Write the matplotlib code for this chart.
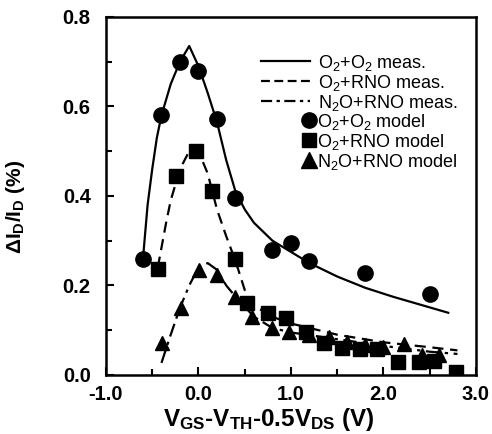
import matplotlib
matplotlib.use("Agg")
import matplotlib.pyplot as plt
from matplotlib.lines import Line2D
from matplotlib.ticker import MultipleLocator

plt.rcParams['font.family'] = ['Liberation Sans', 'DejaVu Sans']
plt.rcParams['mathtext.fontset'] = 'custom'
plt.rcParams['mathtext.rm'] = 'Liberation Sans'
plt.rcParams['mathtext.it'] = 'Liberation Sans'
plt.rcParams['mathtext.bf'] = 'Liberation Sans:bold'
plt.rcParams['mathtext.default'] = 'regular'

# measured curves
x_meas1 = [-0.6, -0.55, -0.5, -0.45, -0.4, -0.3, -0.2, -0.1, 0.0, 0.1, 0.2, 0.3, 0.4, 0.5, 0.6, 0.8,
           1.0, 1.2, 1.5, 1.8, 2.1, 2.4, 2.7]
y_meas1 = [0.26, 0.38, 0.46, 0.53, 0.58, 0.65, 0.70, 0.735, 0.69, 0.63, 0.565, 0.48, 0.41, 0.37,
           0.34, 0.30, 0.275, 0.25, 0.22, 0.195, 0.175, 0.157, 0.139]

x_meas2 = [-0.44, -0.35, -0.3, -0.2, -0.1, 0.0, 0.1, 0.2, 0.3, 0.4, 0.5, 0.6, 0.8, 1.0, 1.5, 2.0,
           2.5, 2.8]
y_meas2 = [0.24, 0.34, 0.39, 0.46, 0.50, 0.50, 0.45, 0.37, 0.31, 0.255, 0.19, 0.155, 0.13, 0.115,
           0.09, 0.073, 0.062, 0.055]

x_meas3 = [-0.4, -0.3, -0.2, -0.1, 0.0, 0.1, 0.2, 0.3, 0.4, 0.6, 0.8, 1.0, 1.5, 2.0, 2.5, 2.8]
y_meas3 = [0.027, 0.09, 0.15, 0.20, 0.24, 0.25, 0.235, 0.20, 0.175, 0.13, 0.105, 0.095, 0.08,
           0.065, 0.052, 0.047]

# model points
x_mod1 = [-0.6, -0.4, -0.2, 0.0, 0.2, 0.4, 0.8, 1.0, 1.2, 1.8, 2.5]
y_mod1 = [0.26, 0.58, 0.70, 0.68, 0.572, 0.395, 0.28, 0.295, 0.255, 0.227, 0.181]

x_mod2 = [-0.44, -0.24, -0.03, 0.15, 0.40, 0.53, 0.75, 0.95, 1.16, 1.36, 1.55, 1.75, 1.93, 2.16,
          2.38, 2.55, 2.78]
y_mod2 = [0.237, 0.445, 0.50, 0.41, 0.26, 0.16, 0.138, 0.127, 0.096, 0.072, 0.06, 0.058, 0.057,
          0.03, 0.03, 0.032, 0.006]

x_mod3 = [-0.39, -0.19, 0.01, 0.2, 0.39, 0.58, 0.8, 0.98, 1.2, 1.41, 1.61, 1.8, 2.0, 2.22, 2.42,
          2.6, 2.81]
y_mod3 = [0.072, 0.15, 0.235, 0.223, 0.175, 0.13, 0.105, 0.096, 0.09, 0.085, 0.074, 0.067, 0.063,
          0.069, 0.045, 0.045, 0.0]

x_ticks = [-1.0, 0.0, 1.0, 2.0, 3.0]
x_ticklabels = ['-1.0', '0.0', '1.0', '2.0', '3.0']
y_ticks = [0.0, 0.2, 0.4, 0.6, 0.8]
y_ticklabels = ['0.0', '0.2', '0.4', '0.6', '0.8']

labels_meas = ['O$_2$+O$_2$ meas.', 'O$_2$+RNO meas.', 'N$_2$O+RNO meas.']
labels_mod = ['O$_2$+O$_2$ model', 'O$_2$+RNO model', 'N$_2$O+RNO model']

fig = plt.figure(figsize=(4.92, 4.34), dpi=100)
ax = fig.add_axes([0.2154, 0.136, 0.752, 0.825])

ax.plot(x_meas1, y_meas1, '-', color='black', lw=1.6)
ax.plot(x_meas2, y_meas2, '--', color='black', lw=1.6, dashes=(5, 3))
ax.plot(x_meas3, y_meas3, '-.', color='black', lw=1.6, dashes=(6, 2.5, 1.5, 2.5))
ax.plot(x_mod1, y_mod1, 'o', color='black', ms=11)
ax.plot(x_mod2, y_mod2, 's', color='black', ms=9.5)
ax.plot(x_mod3, y_mod3, '^', color='black', ms=10.5)

ax.set_xlim(-1.0, 3.0)
ax.set_ylim(0.0, 0.8)
ax.set_xticks(x_ticks)
ax.set_xticklabels(x_ticklabels, fontweight='bold')
ax.set_yticks(y_ticks)
ax.set_yticklabels(y_ticklabels, fontweight='bold')
ax.xaxis.set_minor_locator(MultipleLocator(0.5))
ax.yaxis.set_minor_locator(MultipleLocator(0.1))
ax.tick_params(which='both', direction='in', top=False, right=False, width=1.5)
ax.tick_params(which='major', length=6, labelsize=14.5)
ax.tick_params(axis='y', which='major', pad=11)
ax.tick_params(axis='x', which='major', pad=7)
ax.tick_params(which='minor', length=4)
for sp in ax.spines.values():
    sp.set_linewidth(1.8)

ax.set_xlabel('V$_{GS}$-V$_{TH}$-0.5V$_{DS}$ (V)', fontsize=17.5, fontweight='bold')
ax.xaxis.set_label_coords(0.44, -0.086)
ax.set_ylabel('ΔI$_D$/I$_D$ (%)', fontsize=15, fontweight='bold')
ax.yaxis.set_label_coords(-0.214, 0.47)

h_lines = [Line2D([], [], color='black', lw=1.6, ls='-'),
           Line2D([], [], color='black', lw=1.6, dashes=(4, 2)),
           Line2D([], [], color='black', lw=1.6, dashes=(5, 2, 1.5, 2))]
leg1 = ax.legend(h_lines, labels_meas, loc='upper left', bbox_to_anchor=(0.42, 0.9),
                 frameon=False, handlelength=2.7, handletextpad=0.45, fontsize=13,
                 labelspacing=0.0, borderaxespad=0, borderpad=0)
ax.add_artist(leg1)
h_mk = [Line2D([], [], color='black', ls='none', marker='o', ms=11),
        Line2D([], [], color='black', ls='none', marker='s', ms=10),
        Line2D([], [], color='black', ls='none', marker='^', ms=11)]
leg2 = ax.legend(h_mk, labels_mod, loc='upper left', bbox_to_anchor=(0.53, 0.735),
                 frameon=False, handlelength=0.8, handletextpad=0.0, fontsize=13,
                 labelspacing=0.0, borderaxespad=0, borderpad=0)

fig.savefig('out.png', dpi=100)
